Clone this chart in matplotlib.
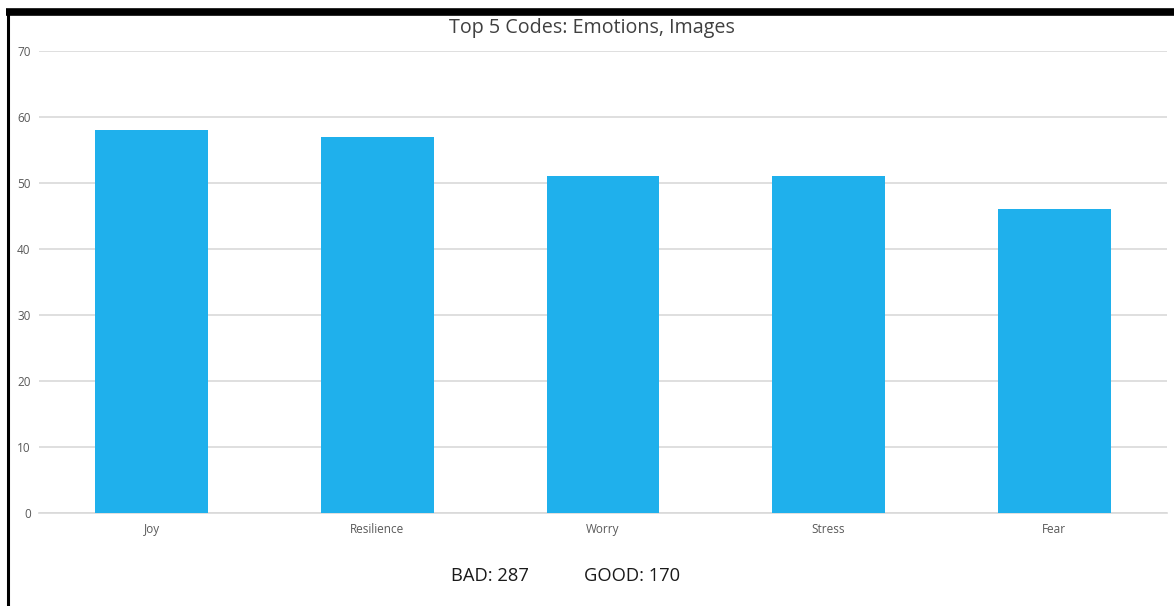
"""Bar chart of the five most frequent emotion codes."""

import matplotlib.pyplot as plt
from matplotlib.lines import Line2D

codes = ["Joy", "Resilience", "Worry", "Stress", "Fear"]
counts = [58, 57, 51, 51, 46]
y_ticks = [0, 10, 20, 30, 40, 50, 60, 70]
bad_total = 287
good_total = 170

BAR_COLOR = "#1fb0ec"
GRID_COLOR = "#d9d9d9"
LABEL_COLOR = "#595959"

W, H = 1174, 606
fig = plt.figure(figsize=(W / 100, H / 100), dpi=100)
fig.patch.set_facecolor("white")

ax = fig.add_axes([39 / W, 1 - 513 / H, (1167 - 39) / W, (513 - 51) / H])
x = range(len(codes))
ax.bar(x, counts, width=0.5, color=BAR_COLOR, zorder=3)

ax.set_xlim(-0.5, len(codes) - 0.5)
ax.set_ylim(0, 70)
ax.set_yticks(y_ticks)
ax.set_xticks(list(x))
ax.set_xticklabels(codes)
ax.grid(axis="y", color=GRID_COLOR, linewidth=1.2, zorder=0)
ax.tick_params(axis="both", length=0, labelsize=8.5, labelcolor=LABEL_COLOR,
               labelfontfamily="Open Sans")
ax.tick_params(axis="y", pad=6)
ax.tick_params(axis="x", pad=7)
for side in ["top", "right", "left"]:
    ax.spines[side].set_visible(False)
ax.spines["bottom"].set_color(GRID_COLOR)
ax.spines["bottom"].set_linewidth(1.2)

fig.text(592 / W, 1 - 28 / H, "Top 5 Codes: Emotions, Images", ha="center", va="center",
         fontsize=14.2, color="#404040", family="Open Sans")
fig.text(490 / W, 1 - 576 / H, f"BAD: {bad_total}", ha="center", va="center",
         fontsize=13.2, color="#1a1a1a", family="Open Sans")
fig.text(632 / W, 1 - 576 / H, f"GOOD: {good_total}", ha="center", va="center",
         fontsize=13.2, color="#1a1a1a", family="Open Sans")

# black frame: heavy top rule and a thinner left edge
fig.add_artist(Line2D([6 / W, 1.0], [1 - 11.5 / H] * 2, color="black", linewidth=5.5,
                      transform=fig.transFigure, solid_capstyle="butt"))
fig.add_artist(Line2D([7.5 / W] * 2, [0, 1 - 9 / H], color="black", linewidth=2.2,
                      transform=fig.transFigure, solid_capstyle="butt"))

fig.savefig("out.png", dpi=100)
